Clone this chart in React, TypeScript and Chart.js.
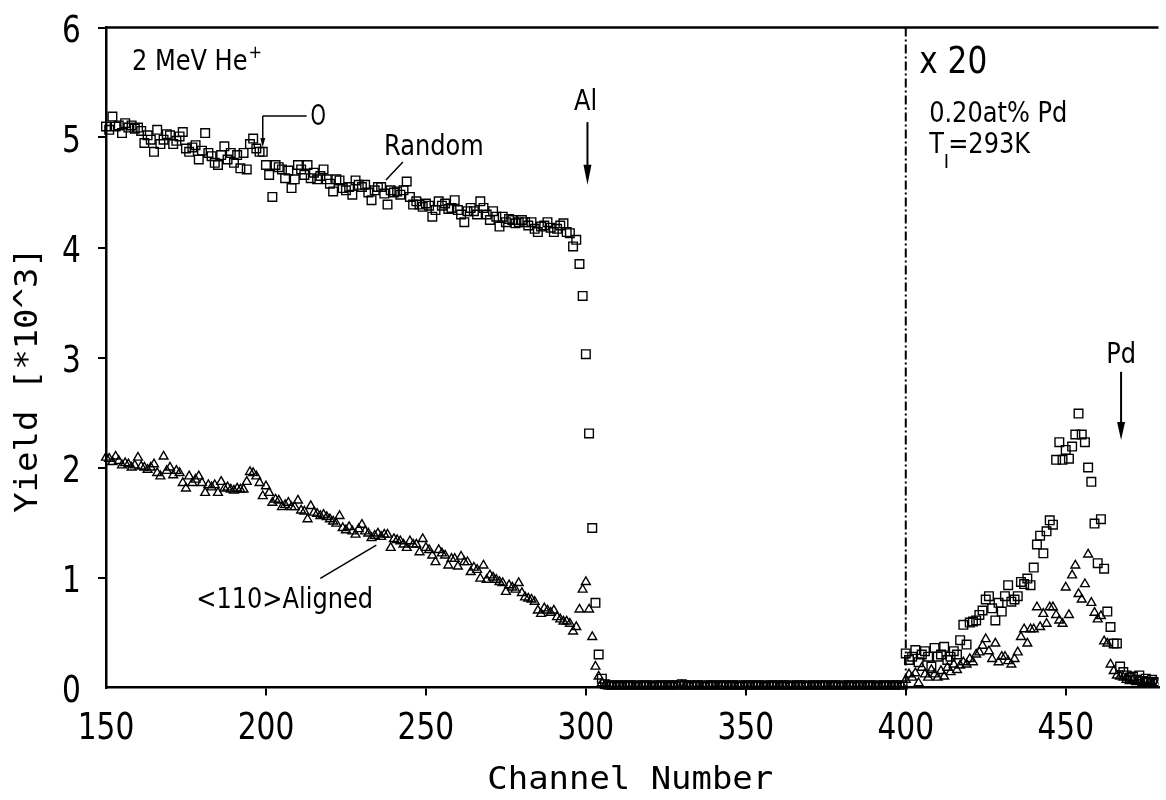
import React, { useEffect, useRef } from 'react';
import { Chart, registerables } from 'chart.js';

Chart.register(...registerables);

// ---------- data (yield in units of 10^3 counts, one value per channel) ----------
const FIRST_CHANNEL = 150;

// Random spectrum, channels 150-305 (Al surface region)
const randomSurface = [
  5.10, 5.07, 5.19, 5.10, 5.11, 5.04, 5.13, 5.09, 5.11, 5.08,
  5.09, 5.06, 4.95, 5.02, 4.98, 4.87, 5.07, 4.94, 4.98, 5.03,
  5.02, 4.94, 4.97, 5.01, 5.05, 4.90, 4.87, 4.91, 4.93, 4.80,
  4.88, 5.04, 4.86, 4.83, 4.77, 4.75, 4.84, 4.92, 4.80, 4.86,
  4.77, 4.84, 4.72, 4.86, 4.71, 4.94, 4.99, 4.90, 4.87, 4.87,
  4.75, 4.66, 4.46, 4.75, 4.73, 4.71, 4.63, 4.70, 4.54, 4.62,
  4.75, 4.71, 4.66, 4.75, 4.63, 4.68, 4.62, 4.65, 4.71, 4.62,
  4.58, 4.51, 4.62, 4.61, 4.54, 4.52, 4.55, 4.48, 4.61, 4.57,
  4.55, 4.57, 4.50, 4.43, 4.52, 4.55, 4.55, 4.49, 4.39, 4.52,
  4.50, 4.51, 4.48, 4.52, 4.60, 4.46, 4.39, 4.42, 4.39, 4.37,
  4.40, 4.38, 4.28, 4.34, 4.42, 4.38, 4.40, 4.35, 4.36, 4.43,
  4.34, 4.30, 4.23, 4.33, 4.36, 4.33, 4.30, 4.42, 4.36, 4.30,
  4.25, 4.33, 4.28, 4.19, 4.28, 4.23, 4.26, 4.25, 4.22, 4.23,
  4.25, 4.23, 4.20, 4.23, 4.17, 4.14, 4.19, 4.20, 4.23, 4.18,
  4.14, 4.17, 4.20, 4.22, 4.14, 4.13, 4.01, 4.07, 3.85, 3.56,
  3.03, 2.31, 1.45, 0.77, 0.30, 0.08,
];
// Random spectrum, channels 306-399 (background)
const randomGap = [
  0.03, 0.02, 0.02, 0.01, 0.02, 0.02, 0.01, 0.02, 0.02, 0.01,
  0.02, 0.01, 0.02, 0.02, 0.01, 0.02, 0.01, 0.02, 0.02, 0.01,
  0.02, 0.02, 0.01, 0.02, 0.03, 0.02, 0.02, 0.01, 0.02, 0.02,
  0.01, 0.02, 0.01, 0.02, 0.02, 0.01, 0.02, 0.02, 0.01, 0.02,
  0.02, 0.01, 0.02, 0.01, 0.02, 0.02, 0.01, 0.02, 0.02, 0.01,
  0.02, 0.01, 0.02, 0.02, 0.01, 0.02, 0.02, 0.01, 0.02, 0.01,
  0.02, 0.02, 0.01, 0.02, 0.01, 0.02, 0.02, 0.01, 0.02, 0.02,
  0.01, 0.02, 0.02, 0.01, 0.02, 0.01, 0.02, 0.02, 0.01, 0.02,
  0.02, 0.01, 0.02, 0.02, 0.01, 0.02, 0.01, 0.02, 0.02, 0.01,
  0.02, 0.02, 0.01, 0.02,
];
// Random spectrum, channels 400-479 (Pd signal, x20)
const randomPd = [
  0.31, 0.25, 0.28, 0.34, 0.23, 0.30, 0.33, 0.28, 0.19, 0.36,
  0.28, 0.30, 0.37, 0.25, 0.28, 0.33, 0.30, 0.43, 0.57, 0.39,
  0.59, 0.60, 0.61, 0.66, 0.70, 0.80, 0.83, 0.72, 0.61, 0.77,
  0.69, 0.83, 0.93, 0.78, 0.80, 0.83, 0.96, 0.94, 0.99, 0.93,
  1.09, 1.30, 1.38, 1.22, 1.42, 1.52, 1.48, 2.07, 2.23, 2.07,
  2.16, 2.08, 2.19, 2.30, 2.49, 2.30, 2.23, 2.00, 1.87, 1.49,
  1.13, 1.53, 1.08, 0.69, 0.55, 0.40, 0.40, 0.19, 0.14, 0.11,
  0.09, 0.10, 0.07, 0.11, 0.06, 0.08, 0.05, 0.07, 0.04, 0.05,
];

// <110> aligned spectrum, channels 150-305
const alignedSurface = [
  2.09, 2.08, 2.05, 2.10, 2.06, 2.02, 2.04, 2.03, 2.00, 2.02,
  2.09, 2.01, 2.00, 1.98, 2.00, 2.03, 1.95, 1.92, 2.10, 1.97,
  2.00, 1.93, 1.97, 1.95, 1.86, 1.81, 1.92, 1.86, 1.89, 1.92,
  1.86, 1.77, 1.84, 1.82, 1.84, 1.77, 1.87, 1.81, 1.82, 1.80,
  1.79, 1.81, 1.80, 1.80, 1.87, 1.96, 1.95, 1.92, 1.86, 1.74,
  1.83, 1.77, 1.68, 1.71, 1.70, 1.64, 1.66, 1.68, 1.64, 1.64,
  1.70, 1.61, 1.60, 1.53, 1.65, 1.59, 1.58, 1.56, 1.57, 1.55,
  1.53, 1.51, 1.49, 1.56, 1.45, 1.43, 1.46, 1.42, 1.39, 1.44,
  1.48, 1.42, 1.40, 1.36, 1.38, 1.40, 1.37, 1.39, 1.39, 1.27,
  1.35, 1.34, 1.33, 1.30, 1.27, 1.33, 1.30, 1.30, 1.23, 1.35,
  1.27, 1.25, 1.20, 1.14, 1.25, 1.22, 1.20, 1.11, 1.17, 1.17,
  1.10, 1.19, 1.14, 1.14, 1.05, 1.09, 1.07, 0.99, 1.11, 0.98,
  1.02, 1.00, 0.98, 0.96, 0.95, 0.87, 0.93, 0.91, 0.89, 0.95,
  0.86, 0.82, 0.81, 0.80, 0.78, 0.70, 0.67, 0.72, 0.70, 0.68,
  0.70, 0.64, 0.62, 0.60, 0.60, 0.58, 0.51, 0.55, 0.71, 0.89,
  0.96, 0.71, 0.46, 0.19, 0.10, 0.04,
];
// <110> aligned spectrum, channels 306-399
const alignedGap = [
  0.02, 0.01, 0.01, 0.00, 0.01, 0.01, 0.00, 0.01, 0.01, 0.00,
  0.01, 0.00, 0.01, 0.01, 0.00, 0.01, 0.00, 0.01, 0.01, 0.00,
  0.01, 0.01, 0.00, 0.01, 0.02, 0.01, 0.01, 0.00, 0.01, 0.01,
  0.00, 0.01, 0.00, 0.01, 0.01, 0.00, 0.01, 0.01, 0.00, 0.01,
  0.01, 0.00, 0.01, 0.00, 0.01, 0.01, 0.00, 0.01, 0.01, 0.00,
  0.01, 0.00, 0.01, 0.01, 0.00, 0.01, 0.01, 0.00, 0.01, 0.00,
  0.01, 0.01, 0.00, 0.01, 0.00, 0.01, 0.01, 0.00, 0.01, 0.01,
  0.00, 0.01, 0.01, 0.00, 0.01, 0.00, 0.01, 0.01, 0.00, 0.01,
  0.01, 0.00, 0.01, 0.01, 0.00, 0.01, 0.00, 0.01, 0.01, 0.00,
  0.01, 0.01, 0.00, 0.01,
];
// <110> aligned spectrum, channels 400-479 (x20)
const alignedPd = [
  0.07, 0.12, 0.09, 0.13, 0.04, 0.18, 0.12, 0.09, 0.16, 0.12,
  0.09, 0.15, 0.10, 0.18, 0.14, 0.21, 0.16, 0.20, 0.23, 0.21,
  0.26, 0.23, 0.30, 0.32, 0.38, 0.44, 0.33, 0.26, 0.40, 0.23,
  0.28, 0.28, 0.24, 0.21, 0.26, 0.32, 0.46, 0.53, 0.40, 0.53,
  0.53, 0.73, 0.55, 0.67, 0.58, 0.73, 0.73, 0.66, 0.61, 0.58,
  0.91, 0.66, 1.02, 1.11, 0.85, 0.80, 0.94, 1.21, 0.77, 0.68,
  0.62, 0.65, 0.42, 0.40, 0.21, 0.15, 0.11, 0.10, 0.09, 0.07,
  0.06, 0.07, 0.05, 0.06, 0.04, 0.05, 0.04, 0.03, 0.04, 0.03,
];

const xTickValues = [150, 200, 250, 300, 350, 400, 450];
const yTickValues = [0, 1, 2, 3, 4, 5, 6];
const X_MIN = 150;
const X_MAX = 479;
const Y_MIN = 0;
const Y_MAX = 6;
const X20_CHANNEL = 400;

const randomYield = [...randomSurface, ...randomGap, ...randomPd];
const alignedYield = [...alignedSurface, ...alignedGap, ...alignedPd];
const channels = randomYield.map((_, i) => FIRST_CHANNEL + i);

// ---------- drawing helpers ----------
const SANS = '"DejaVu Sans", "Liberation Sans", sans-serif';
const MONO = '"DejaVu Sans Mono", "Liberation Mono", monospace';

function drawText(ctx: CanvasRenderingContext2D, s: string, x: number, y: number,
  size: number, family: string, sx: number, align: CanvasTextAlign = 'left'): number {
  ctx.save();
  ctx.translate(x, y);
  ctx.scale(sx, 1);
  ctx.font = `${size}px ${family}`;
  ctx.textAlign = align;
  ctx.textBaseline = 'alphabetic';
  ctx.fillText(s, 0, 0);
  const w = ctx.measureText(s).width * sx;
  ctx.restore();
  return w;
}

function drawArrowDown(ctx: CanvasRenderingContext2D, x: number, y1: number, y2: number,
  headLen: number, headHalf: number, lw: number) {
  ctx.lineWidth = lw;
  ctx.beginPath();
  ctx.moveTo(x, y1);
  ctx.lineTo(x, y2 - headLen + 1);
  ctx.stroke();
  ctx.beginPath();
  ctx.moveTo(x - headHalf, y2 - headLen);
  ctx.lineTo(x + headHalf, y2 - headLen);
  ctx.lineTo(x, y2);
  ctx.closePath();
  ctx.fill();
}

const overlayPlugin = {
  id: 'overlay',
  afterDraw(chart: any) {
    const { ctx, chartArea: ca } = chart;
    const xs = chart.scales.x;
    const ys = chart.scales.y;
    const px = (v: number) => xs.getPixelForValue(v);
    const py = (v: number) => ys.getPixelForValue(v);
    ctx.save();
    ctx.fillStyle = '#000';
    ctx.strokeStyle = '#000';
    ctx.lineCap = 'butt';

    // top frame line
    ctx.lineWidth = 2.5;
    ctx.beginPath();
    ctx.moveTo(ca.left - 1, ca.top);
    ctx.lineTo(ca.right, ca.top);
    ctx.stroke();

    // dash-dot separator at the x20 boundary
    ctx.lineWidth = 2;
    ctx.setLineDash([9, 3, 2, 3]);
    ctx.beginPath();
    ctx.moveTo(px(X20_CHANNEL), ca.top);
    ctx.lineTo(px(X20_CHANNEL), ca.bottom);
    ctx.stroke();
    ctx.setLineDash([]);

    // tick labels
    xTickValues.forEach((v) => {
      drawText(ctx, String(v), px(v), ca.bottom + 51.5, 38, SANS, 0.78, 'center');
    });
    yTickValues.forEach((v) => {
      drawText(ctx, String(v), ca.left - 34.5, py(v) + 14, 38, SANS, 0.78, 'center');
    });

    // axis titles
    drawText(ctx, 'Channel Number', (ca.left + ca.right) / 2 - 2, 789, 32, MONO, 1.06, 'center');
    ctx.save();
    ctx.translate(37, 380);
    ctx.rotate(-Math.PI / 2);
    drawText(ctx, 'Yield [*10^3]', 0, 0, 32, MONO, 1.06, 'center');
    ctx.restore();

    // annotations
    const A = 28;
    const AS = 0.86;
    // 2 MeV He+
    const wHe = drawText(ctx, '2 MeV He', px(158.1), py(5.61), A, SANS, AS);
    drawText(ctx, '+', px(158.1) + wHe + 1, py(5.61) - 12, 18, SANS, 0.9);

    // O marker
    ctx.lineWidth = 1.5;
    ctx.beginPath();
    ctx.moveTo(px(199.0), py(5.195));
    ctx.lineTo(px(212.7), py(5.195));
    ctx.stroke();
    drawArrowDown(ctx, px(199.0), py(5.195), py(4.914), 9, 2.5, 1.5);
    drawText(ctx, 'O', px(213.9), py(5.11), A, SANS, 0.7);

    // Random
    drawText(ctx, 'Random', px(236.9), py(4.84), A, SANS, AS);
    ctx.lineWidth = 1.5;
    ctx.beginPath();
    ctx.moveTo(px(242.8), py(4.777));
    ctx.lineTo(px(237.5), py(4.614));
    ctx.stroke();

    // <110> Aligned
    drawText(ctx, '<110>Aligned', px(178.2), py(0.723), A, SANS, AS);
    ctx.beginPath();
    ctx.moveTo(px(217.0), py(0.993));
    ctx.lineTo(px(234.5), py(1.295));
    ctx.stroke();

    // Al
    drawText(ctx, 'Al', px(299.9), py(5.25), A, SANS, AS, 'center');
    drawArrowDown(ctx, px(300.5), py(5.14), py(4.57), 20, 4, 2);

    // x 20 block
    drawText(ctx, 'x 20', px(404.2), py(5.586), 38, SANS, 0.82);
    drawText(ctx, '0.20at% Pd', px(407.3), py(5.144), A, SANS, AS);
    const wT = drawText(ctx, 'T', px(407.3), py(4.859), A, SANS, AS);
    const wI = drawText(ctx, 'I', px(407.3) + wT, py(4.859) + 15, 20, SANS, 0.9);
    drawText(ctx, '=293K', px(407.3) + wT + wI - 1, py(4.859), A, SANS, AS);

    // Pd
    drawText(ctx, 'Pd', px(467.3), py(2.95), A, SANS, AS, 'center');
    drawArrowDown(ctx, px(467.3), py(2.87), py(2.25), 18, 4, 2);

    ctx.restore();
  },
};

export default function App() {
  const canvasRef = useRef<HTMLCanvasElement | null>(null);

  useEffect(() => {
    const canvas = canvasRef.current;
    if (!canvas) return;
    const randomPoints = channels.map((c, i) => ({ x: c, y: randomYield[i] }));
    const alignedPoints = channels.map((c, i) => ({ x: c, y: alignedYield[i] }));
    const hideCorner = (first: number) => (ctx: any) =>
      ctx.tick && ctx.tick.value === first ? 'rgba(0,0,0,0)' : '#000';

    const chart = new Chart(canvas, {
      type: 'scatter',
      data: {
        datasets: [
          {
            label: 'Random',
            data: randomPoints,
            pointStyle: 'rect',
            pointRadius: 6.1,
            pointBorderWidth: 1.4,
            pointBorderColor: '#000',
            pointBackgroundColor: 'rgba(0,0,0,0)',
            showLine: false,
            clip: { left: 8, top: 8, right: 0, bottom: 2 },
          },
          {
            label: '<110> Aligned',
            data: alignedPoints,
            pointStyle: 'triangle',
            pointRadius: 5.1,
            pointBorderWidth: 1.4,
            pointBorderColor: '#000',
            pointBackgroundColor: 'rgba(0,0,0,0)',
            showLine: false,
            clip: { left: 8, top: 8, right: 0, bottom: 2 },
          },
        ] as any,
      },
      options: {
        animation: false,
        responsive: false,
        devicePixelRatio: 1,
        layout: { padding: { top: 27.5, right: 0, left: 0, bottom: 0 } },
        plugins: {
          legend: { display: false },
          tooltip: { enabled: false },
        },
        scales: {
          x: {
            type: 'linear',
            position: 'bottom',
            min: X_MIN,
            max: X_MAX,
            afterBuildTicks: (scale: any) => {
              scale.ticks = xTickValues.map((v) => ({ value: v }));
            },
            afterFit: (scale: any) => {
              scale.height = 112.5;
            },
            ticks: { display: false },
            grid: {
              drawOnChartArea: false,
              drawTicks: true,
              tickLength: 8,
              lineWidth: 2,
              color: hideCorner(X_MIN),
            },
            border: { display: true, color: '#000', width: 2.5 },
          },
          y: {
            type: 'linear',
            position: 'left',
            min: Y_MIN,
            max: Y_MAX,
            afterBuildTicks: (scale: any) => {
              scale.ticks = yTickValues.map((v) => ({ value: v }));
            },
            afterFit: (scale: any) => {
              scale.width = 106;
            },
            ticks: { display: false },
            grid: {
              drawOnChartArea: false,
              drawTicks: true,
              tickLength: 8,
              lineWidth: 2,
              color: hideCorner(Y_MIN),
            },
            border: { display: true, color: '#000', width: 2.5 },
          },
        },
      } as any,
      plugins: [overlayPlugin],
    });
    return () => chart.destroy();
  }, []);

  return (
    <div style={{ position: 'absolute', left: 0, top: 0, width: 1166, height: 800, background: '#fff' }}>
      <canvas ref={canvasRef} width={1166} height={800} style={{ display: 'block' }} />
    </div>
  );
}
